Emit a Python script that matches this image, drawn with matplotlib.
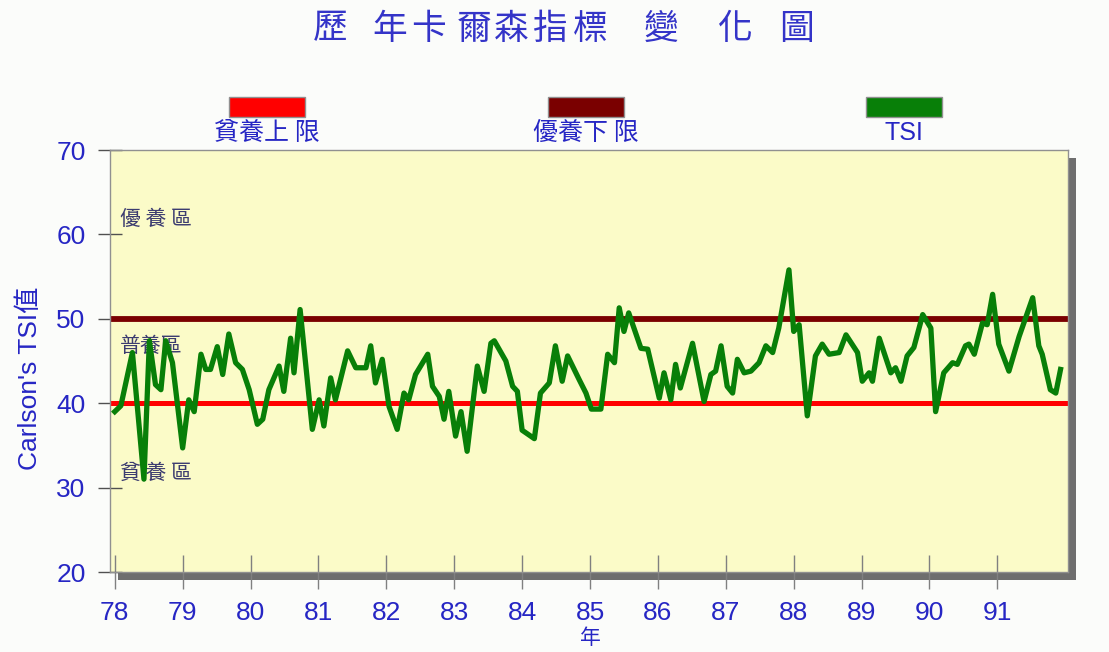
import matplotlib
matplotlib.use('Agg')
import matplotlib.pyplot as plt
from matplotlib.patches import Rectangle

# TSI readings (year of ROC calendar, value)
years = [78.00, 78.09, 78.26, 78.43, 78.51, 78.60, 78.68, 78.75, 78.85, 79.00,
         79.09, 79.17, 79.27, 79.34, 79.41, 79.51, 79.59, 79.68, 79.78, 79.88,
         79.98, 80.10, 80.18, 80.27, 80.42, 80.49, 80.59, 80.64, 80.73, 80.91,
         81.01, 81.08, 81.18, 81.25, 81.43, 81.55, 81.70, 81.77, 81.84, 81.94,
         82.04, 82.16, 82.26, 82.33, 82.43, 82.61, 82.68, 82.78, 82.85, 82.92,
         83.02, 83.10, 83.19, 83.34, 83.44, 83.54, 83.59, 83.76, 83.86, 83.93,
         84.00, 84.18, 84.27, 84.40, 84.49, 84.59, 84.67, 84.84, 84.94, 85.02,
         85.16, 85.26, 85.36, 85.43, 85.50, 85.57, 85.75, 85.85, 86.02, 86.09,
         86.19, 86.26, 86.33, 86.51, 86.68, 86.78, 86.85, 86.93, 87.02, 87.10,
         87.17, 87.27, 87.37, 87.49, 87.59, 87.69, 87.78, 87.93, 88.00, 88.08,
         88.20, 88.32, 88.42, 88.52, 88.67, 88.77, 88.94, 89.01, 89.11, 89.16,
         89.26, 89.43, 89.50, 89.58, 89.67, 89.77, 89.90, 90.02, 90.09, 90.21,
         90.34, 90.41, 90.53, 90.58, 90.66, 90.78, 90.85, 90.93, 91.02, 91.17,
         91.32, 91.52, 91.61, 91.66, 91.78, 91.86, 91.93]
tsi = [39.0, 39.7, 46.0, 31.0, 47.4, 42.2, 41.6, 47.4, 44.8, 34.7,
       40.4, 39.0, 45.8, 44.0, 44.0, 46.7, 43.4, 48.2, 44.8, 44.0,
       41.6, 37.5, 38.1, 41.6, 44.4, 41.4, 47.7, 43.6, 51.1, 36.9,
       40.4, 37.3, 43.0, 40.4, 46.2, 44.2, 44.2, 46.8, 42.4, 45.2,
       39.6, 36.9, 41.2, 40.4, 43.4, 45.8, 42.0, 40.8, 38.1, 41.4,
       36.1, 39.0, 34.3, 44.4, 41.4, 47.1, 47.4, 45.0, 42.0, 41.4,
       36.8, 35.8, 41.2, 42.4, 46.8, 42.6, 45.6, 42.8, 41.2, 39.3,
       39.3, 45.8, 44.8, 51.3, 48.5, 50.7, 46.5, 46.4, 40.6, 43.6,
       40.4, 44.6, 41.8, 47.1, 40.2, 43.4, 43.8, 46.8, 42.0, 41.2,
       45.2, 43.6, 43.8, 44.8, 46.8, 46.0, 48.9, 55.8, 48.5, 49.3,
       38.5, 45.6, 47.0, 45.8, 46.0, 48.1, 46.0, 42.6, 43.6, 42.6,
       47.7, 43.6, 44.2, 42.6, 45.6, 46.6, 50.5, 48.9, 39.0, 43.6,
       44.8, 44.6, 46.8, 47.0, 45.8, 49.5, 49.3, 52.9, 47.0, 43.8,
       47.9, 52.5, 46.8, 45.8, 41.6, 41.2, 44.0]

lower_limit = 40   # 貧養上限
upper_limit = 50   # 優養下限
year_ticks = list(range(78, 92))
zones = ['優 養 區', '普養區', '貧 養 區']
zone_y = [61.8, 46.8, 31.7]
title_chars = ['歷', '年', '卡', '爾', '森', '指', '標', '變', '化', '圖']
title_x = [330, 390, 429, 474, 511, 549, 590, 661, 735, 797]

blue = '#2626c4'
cjk = ['Noto Sans CJK TC', 'DejaVu Sans']
latin = ['Liberation Sans', 'Noto Sans CJK TC']
plt.rcParams['font.family'] = latin

W, H = 1109, 652
fig = plt.figure(figsize=(W / 100, H / 100), dpi=100, facecolor='#fbfcfa')
l, r, t, b = 110, 1068, 150, 572

# drop shadow behind the plot area
sh = fig.add_axes([(l + 8) / W, 1 - (b + 8) / H, (r - l) / W, (b - t) / H], zorder=0)
sh.set_facecolor('#6e6e6e')
sh.set_xticks([])
sh.set_yticks([])
for s in sh.spines.values():
    s.set_visible(False)

ax = fig.add_axes([l / W, 1 - b / H, (r - l) / W, (b - t) / H], zorder=1)
ax.set_facecolor('#fbfbc8')

ax.axhline(lower_limit, color='#ff0000', lw=3.6, zorder=2)
ax.axhline(upper_limit, color='#7a0000', lw=4.2, zorder=2)
ax.plot(years, tsi, color='#087f08', lw=3.8, zorder=3, solid_joinstyle='round')

ax.set_xlim(77.93, 92.04)
ax.set_ylim(20, 70)
ax.set_xticks(year_ticks)
ax.set_yticks(range(20, 71, 10))
ax.tick_params(axis='y', direction='inout', length=17, color='#505050', width=1,
               labelsize=19, labelcolor=blue, pad=9)
ax.tick_params(axis='x', direction='inout', length=24, color='#808080', width=1,
               labelsize=19, labelcolor=blue, pad=9)
for s in ax.spines.values():
    s.set_color('#909090')
    s.set_linewidth(1)

for z, zy in zip(zones, zone_y):
    ax.text(78.08, zy, z, family=cjk, fontsize=15, color='#3c3c70', va='center', zorder=1)

ax.set_ylabel("Carlson's TSI值", fontsize=19, color=blue)
ax.yaxis.set_label_coords((42 - l) / (r - l), (b - 378) / (b - t))
ax.set_xlabel('年', family=cjk, fontsize=15, color=blue)
ax.xaxis.set_label_coords((590 - l) / (r - l), (b - 627) / (b - t))

for ch, cx in zip(title_chars, title_x):
    fig.text(cx / W, 1 - 29 / H, ch, family=cjk, fontsize=25, color='#3434c8',
             ha='center', va='center')

# legend boxes
leg = [('貧養上 限', '#ff0000', 267), ('優養下 限', '#7a0000', 586), ('TSI', '#087f08', 904)]
for name, c, cx in leg:
    fig.patches.append(Rectangle(((cx - 38) / W, 1 - 117 / H), 76 / W, 20 / H,
                                 transform=fig.transFigure, facecolor=c,
                                 edgecolor='#909090', lw=1))
    fig.text(cx / W, 1 - 133 / H, name, family=cjk if name != 'TSI' else latin,
             fontsize=18, color=blue, ha='center', va='center')

fig.savefig('out.png', dpi=100, facecolor=fig.get_facecolor())
